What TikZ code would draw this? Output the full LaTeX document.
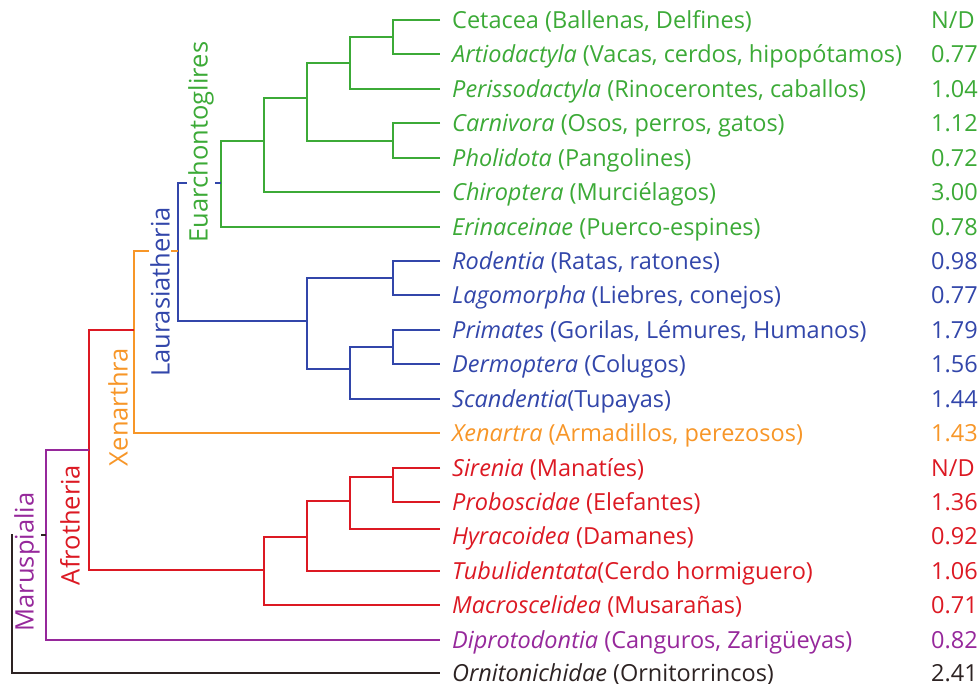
\documentclass[tikz,border=0pt]{standalone}
\usepackage{fontspec}
\setmainfont{Open Sans}
\definecolor{cgreen}{RGB}{60,170,55}
\definecolor{cblue}{RGB}{50,70,170}
\definecolor{corange}{RGB}{247,150,40}
\definecolor{cred}{RGB}{220,25,35}
\definecolor{cpurple}{RGB}{150,40,155}
\definecolor{cdark}{RGB}{45,35,35}
\begin{document}
\begin{tikzpicture}[x=1pt,y=-1pt,
  br/.style={line width=2pt},
  leaf/.style={anchor=west, inner xsep=12pt, inner ysep=0pt, text height=17.4pt, text depth=0pt, font=\fontsize{23.5}{28}\selectfont},
  val/.style={anchor=west, inner sep=0pt, text height=17.4pt, text depth=0pt, font=\fontsize{23.5}{28}\selectfont},
  clade/.style={rotate=90, fill=white, inner xsep=3pt, inner ysep=1pt, font=\fontsize{25.5}{30}\selectfont}]
\useasboundingbox (0,0) rectangle (979,684);
% leaves
\node[leaf,text=cgreen] (l0) at (440,20) {Cetacea (Ballenas, Delfines)};
\node[leaf,text=cgreen] (l1) at (440,54) {\textit{Artiodactyla} (Vacas, cerdos, hipopótamos)};
\node[leaf,text=cgreen] (l2) at (440,89) {\textit{Perissodactyla} (Rinocerontes, caballos)};
\node[leaf,text=cgreen] (l3) at (440,123) {\textit{Carnivora} (Osos, perros, gatos)};
\node[leaf,text=cgreen] (l4) at (440,158) {\textit{Pholidota} (Pangolines)};
\node[leaf,text=cgreen] (l5) at (440,192) {\textit{Chiroptera} (Murciélagos)};
\node[leaf,text=cgreen] (l6) at (440,227) {\textit{Erinaceinae} (Puerco-espines)};
\node[leaf,text=cblue] (l7) at (440,261) {\textit{Rodentia} (Ratas, ratones)};
\node[leaf,text=cblue] (l8) at (440,295) {\textit{Lagomorpha} (Liebres, conejos)};
\node[leaf,text=cblue] (l9) at (440,330) {\textit{Primates} (Gorilas, Lémures, Humanos)};
\node[leaf,text=cblue] (l10) at (440,364) {\textit{Dermoptera} (Colugos)};
\node[leaf,text=cblue] (l11) at (440,399) {\textit{Scandentia}(Tupayas)};
\node[leaf,text=corange] (l12) at (440,433) {\textit{Xenartra} (Armadillos, perezosos)};
\node[leaf,text=cred] (l13) at (440,468) {\textit{Sirenia} (Manatíes)};
\node[leaf,text=cred] (l14) at (440,502) {\textit{Proboscidae} (Elefantes)};
\node[leaf,text=cred] (l15) at (440,536) {\textit{Hyracoidea} (Damanes)};
\node[leaf,text=cred] (l16) at (440,571) {\textit{Tubulidentata}(Cerdo hormiguero)};
\node[leaf,text=cred] (l17) at (440,605) {\textit{Macroscelidea} (Musarañas)};
\node[leaf,text=cpurple] (l18) at (440,640) {\textit{Diprotodontia} (Canguros, Zarigüeyas)};
\node[leaf,text=cdark] (l19) at (440,673) {\textit{Ornitonichidae} (Ornitorrincos)};
% values
\node[val,text=cgreen] (v0) at (931,20) {N/D};
\node[val,text=cgreen] (v1) at (931,54) {0.77};
\node[val,text=cgreen] (v2) at (931,89) {1.04};
\node[val,text=cgreen] (v3) at (931,123) {1.12};
\node[val,text=cgreen] (v4) at (931,158) {0.72};
\node[val,text=cgreen] (v5) at (931,192) {3.00};
\node[val,text=cgreen] (v6) at (931,227) {0.78};
\node[val,text=cblue] (v7) at (931,261) {0.98};
\node[val,text=cblue] (v8) at (931,295) {0.77};
\node[val,text=cblue] (v9) at (931,330) {1.79};
\node[val,text=cblue] (v10) at (931,364) {1.56};
\node[val,text=cblue] (v11) at (931,399) {1.44};
\node[val,text=corange] (v12) at (931,433) {1.43};
\node[val,text=cred] (v13) at (931,468) {N/D};
\node[val,text=cred] (v14) at (931,502) {1.36};
\node[val,text=cred] (v15) at (931,536) {0.92};
\node[val,text=cred] (v16) at (931,571) {1.06};
\node[val,text=cred] (v17) at (931,605) {0.71};
\node[val,text=cpurple] (v18) at (931,640) {0.82};
\node[val,text=cdark] (v19) at (931,673) {2.41};
% internal nodes
\coordinate (A) at (393,37);
\coordinate (B) at (350,63);
\coordinate (C) at (393,141);
\coordinate (D) at (307,98);
\coordinate (E) at (264,141);
\coordinate (F) at (221,183);
\coordinate (G) at (393,278);
\coordinate (H) at (393,347);
\coordinate (I) at (350,369);
\coordinate (J) at (307,321);
\coordinate (K) at (178,251);
\coordinate (L) at (134,330);
\coordinate (M) at (393,477);
\coordinate (N) at (350,501);
\coordinate (O) at (307,537);
\coordinate (P) at (264,570);
\coordinate (Q) at (89,450);
\coordinate (R) at (46,535);
\coordinate (S) at (12,535);
% branches
\draw[br,cgreen] (l0.west) -| (A) |- (l1.west);
\draw[br,cgreen] (A) -| (B) |- (l2.west);
\draw[br,cgreen] (l3.west) -| (C) |- (l4.west);
\draw[br,cgreen] (B) -| (D) |- (C);
\draw[br,cgreen] (D) -| (E) |- (l5.west);
\draw[br,cgreen] (E) -| (F) |- (l6.west);
\draw[br,cblue] (l7.west) -| (G) |- (l8.west);
\draw[br,cblue] (l9.west) -| (H) |- (l10.west);
\draw[br,cblue] (H) -| (I) |- (l11.west);
\draw[br,cblue] (G) -| (J) |- (I);
\draw[br,cblue] (F) -| (K) |- (J);
\draw[br,corange] (K) -| (L) |- (l12.west);
\draw[br,cred] (l13.west) -| (M) |- (l14.west);
\draw[br,cred] (M) -| (N) |- ([yshift=7pt]l15.west);
\draw[br,cred] (N) -| (O) |- (l16.west);
\draw[br,cred] (O) -| (P) |- (l17.west);
\draw[br,cred] (L) -| (Q) |- (P);
\draw[br,cpurple] (Q) -| (R) |- (l18.west);
\draw[br,cdark] (R) -- (S) |- (l19.west);
% clade labels
\node[clade,text=cgreen] (euar) at (201,142) {Euarchontoglires};
\node[clade,text=cblue] (laur) at (160,292) {Laurasiatheria};
\node[clade,text=corange] (xen) at (118,407) {Xenarthra};
\node[clade,text=cred] (afro) at (70,525) {Afrotheria};
\node[clade,text=cpurple] (maru) at (27,562) {Maruspialia};
\end{tikzpicture}
\end{document}
